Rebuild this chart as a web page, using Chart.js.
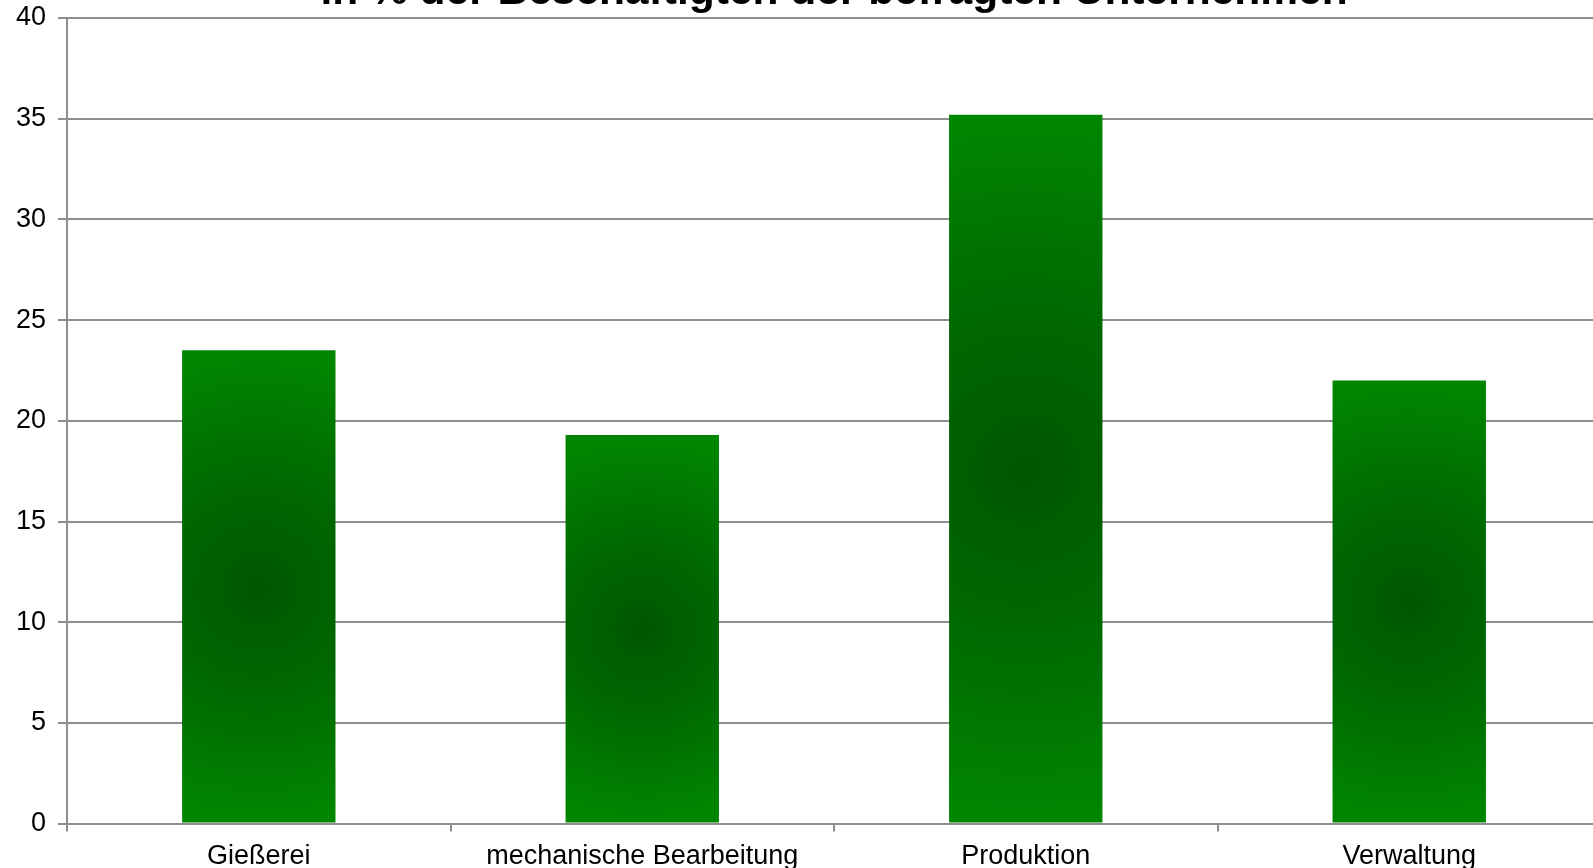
<!DOCTYPE html>
<html lang="de">
<head>
    <meta charset="UTF-8">
    <title>Beschäftigte der befragten Unternehmen</title>
    <script src="https://cdn.jsdelivr.net/npm/chart.js"></script>
    <style>
        html, body { margin: 0; padding: 0; overflow: hidden; background: #fff; }
        #chartBox { position: absolute; left: 0; top: -33px; }
    </style>
</head>
<body>
    <div id="chartBox">
        <canvas id="bereiche" width="1610" height="915"></canvas>
    </div>
    <script>
        // Daten
        const titel = 'in % der Beschäftigten der befragten Unternehmen';
        const bereiche = ['Gießerei', 'mechanische Bearbeitung', 'Produktion', 'Verwaltung'];
        const anteile = [23.5, 19.3, 35.2, 22.0];
        const yMax = 40;
        const ySchritt = 5;

        const grau = '#8e8e8e';
        const schrift = "'Liberation Sans', Arial, sans-serif";

        // Radialer Verlauf pro Balken: dunkel in der Mitte, hell am Rand
        function balkenFarbe(context) {
            const chart = context.chart;
            const area = chart.chartArea;
            if (!area || context.dataIndex === undefined) return '#008400';
            const xs = chart.scales.x, ys = chart.scales.y;
            const wert = context.dataset.data[context.dataIndex];
            const cx = xs.getPixelForValue(context.dataIndex);
            const oben = ys.getPixelForValue(wert);
            const unten = ys.getPixelForValue(0);
            const cy = (oben + unten) / 2;
            const r = Math.max((unten - oben) / 2, 1);
            const g = chart.ctx.createRadialGradient(cx, cy, 0, cx, cy, r);
            g.addColorStop(0, 'rgb(0,86,0)');
            g.addColorStop(0.45, 'rgb(0,104,0)');
            g.addColorStop(1, 'rgb(0,134,0)');
            return g;
        }

        const ctx = document.getElementById('bereiche').getContext('2d');
        const chart = new Chart(ctx, {
            type: 'bar',
            data: {
                labels: bereiche,
                datasets: [{
                    data: anteile,
                    backgroundColor: balkenFarbe,
                    borderWidth: 0,
                    categoryPercentage: 1.0,
                    barPercentage: 0.4
                }]
            },
            options: {
                responsive: false,
                animation: false,
                devicePixelRatio: 1,
                layout: { padding: { left: 4, right: 9, top: 0, bottom: 0 } },
                plugins: {
                    legend: { display: false },
                    tooltip: { enabled: false },
                    title: {
                        display: true,
                        text: titel,
                        fullSize: false,
                        color: '#000',
                        font: { family: schrift, size: 42.5, weight: 'bold', lineHeight: 1.2 },
                        padding: { top: 0, bottom: 0 }
                    }
                },
                scales: {
                    x: {
                        grid: {
                            offset: true,
                            drawOnChartArea: false,
                            drawTicks: true,
                            tickLength: 8,
                            color: grau,
                            lineWidth: 2
                        },
                        border: { color: grau, width: 2 },
                        ticks: {
                            color: '#000',
                            padding: 9,
                            maxRotation: 0,
                            font: { family: schrift, size: 27 }
                        }
                    },
                    y: {
                        min: 0,
                        max: yMax,
                        grid: {
                            color: grau,
                            lineWidth: 2,
                            tickLength: 9
                        },
                        border: { color: grau, width: 2 },
                        ticks: {
                            stepSize: ySchritt,
                            color: '#000',
                            padding: 12,
                            font: { family: schrift, size: 27 }
                        }
                    }
                }
            }
        });
    </script>
</body>
</html>
